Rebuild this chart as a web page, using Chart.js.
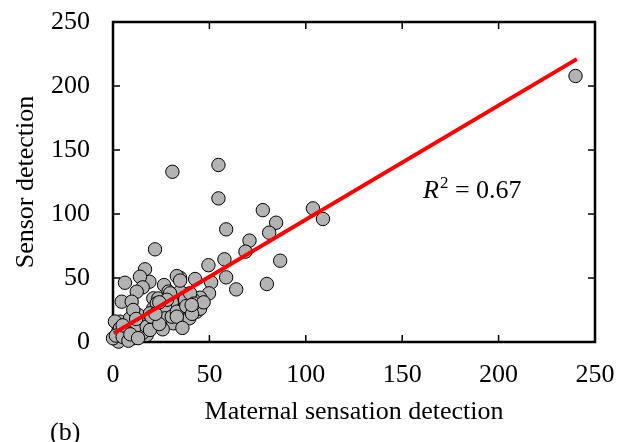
<!DOCTYPE html>
<html>
<head>
<meta charset="utf-8">
<script src="https://cdn.jsdelivr.net/npm/chart.js@4.4.1/dist/chart.umd.min.js"></script>
<style>
  html, body { margin: 0; padding: 0; background: #fff; }
  #wrap { width: 617px; height: 442px; position: relative; }
</style>
</head>
<body>
<div id="wrap"><canvas id="chart"></canvas></div>
<script>
// measured points (maternal sensation vs sensor detection)
const maternalX = [239.9, 30.8, 54.7, 54.7, 77.7, 103.7, 108.9, 84.6, 58.7, 81, 70.8, 68.7, 86.7, 57.8, 49.5, 21.8,
  79.8, 63.9, 58.7, 50.9, 49.8, 45.2, 42.6, 34.8, 33.1, 26.5, 16.6, 18.9, 14, 15.4, 6.2, 12.3, 4.5, 9.7, 20.9, 23.5,
  30.5, 39.1, 41.7, 36.1, 34.8, 28.8, 30.5, 27, 37.4, 43.4, 45.2, 39.6, 27, 31.3, 25.8, 17.4, 17.5, 15.1, 10.5, 2.8,
  0, 3.6, 8.8, 13.1, 6.2, 2.8, 20.9, 22.7, 19.2, 14, 10.5, 11.4, 17.5, 30.5, 33.1, 37.4, 1, 3.6, 7.1, 19.2, 19.9,
  33.1, 40, 29.6, 34.8, 1.5, 5, 8, 24, 22, 12, 5, 42, 47, 38, 28, 24, 36, 41, 9, 13, 40.8];
const sensorY = [207.8, 133, 138.3, 112.2, 103, 104.4, 96.1, 93.2, 88, 85.4, 79.2, 70.6, 63.5, 64.6, 60, 72.4,
  45.3, 41.1, 50.5, 46.6, 38, 34.6, 49.2, 50.2, 51.5, 44.5, 56.8, 47.1, 51, 42.7, 46.3, 39.3, 31.5, 31.5, 34.1, 34,
  35.4, 37.5, 32.8, 33, 39.4, 39.4, 30.9, 27.6, 23.7, 23.7, 26, 18.5, 18.5, 14.6, 9.9, 17.2, 5.5, 6.8, 2.9, 0.3,
  2.9, 15.9, 18.5, 21.1, 9.4, 8.1, 26.3, 30.2, 22.4, 14.6, 25, 12, 12, 19.8, 23.7, 32.8, 16, 10.7, 8.1, 9.4, 19.8,
  19.8, 38, 38, 48, 5, 4, 1, 14, 22, 18, 13, 30, 31, 28, 33, 31, 11, 22, 6, 3, 28.9];

// fitted line end points
const fitX = [0.5, 240.5];
const fitY = [6.8, 221];

const tickValues = [0, 50, 100, 150, 200, 250];
const r2Label = '0.67';

const serif = "'Liberation Serif', 'DejaVu Serif', serif";

const points = maternalX.map((x, i) => ({ x, y: sensorY[i] }));
const fitLine = fitX.map((x, i) => ({ x, y: fitY[i] }));

// box frame with inward ticks + extra labels
const framePlugin = {
  id: 'frame',
  beforeDatasetsDraw(chart) {
    const { ctx, chartArea: a, scales: { x, y } } = chart;
    ctx.save();
    ctx.strokeStyle = '#000';
    ctx.lineWidth = 2.5;
    ctx.strokeRect(a.left, a.top, a.right - a.left, a.bottom - a.top);
    ctx.lineWidth = 1.5;
    ctx.beginPath();
    tickValues.slice(1, -1).forEach(v => {
      const px = x.getPixelForValue(v);
      ctx.moveTo(px, a.bottom); ctx.lineTo(px, a.bottom - 7);
      ctx.moveTo(px, a.top); ctx.lineTo(px, a.top + 7);
      const py = y.getPixelForValue(v);
      ctx.moveTo(a.left, py); ctx.lineTo(a.left + 7, py);
      ctx.moveTo(a.right, py); ctx.lineTo(a.right - 7, py);
    });
    ctx.stroke();
    ctx.restore();
  },
  afterDraw(chart) {
    const { ctx } = chart;
    ctx.save();
    ctx.fillStyle = '#000';
    ctx.textBaseline = 'alphabetic';
    // R^2 label
    ctx.font = 'italic 26px ' + serif;
    ctx.fillText('R', 423, 198);
    let w = ctx.measureText('R').width;
    ctx.font = '17px ' + serif;
    ctx.fillText('2', 423 + w + 1, 188);
    const w2 = ctx.measureText('2').width;
    ctx.font = '26px ' + serif;
    ctx.fillText(' = ' + r2Label, 423 + w + 1 + w2, 198);
    // panel label
    ctx.font = '26px ' + serif;
    ctx.fillText('(b)', 50, 440);
    ctx.restore();
  }
};

new Chart(document.getElementById('chart'), {
  type: 'scatter',
  data: {
    datasets: [
      {
        type: 'line',
        data: fitLine,
        borderColor: '#ff0000',
        borderWidth: 4,
        pointRadius: 0,
        fill: false
      },
      {
        data: points,
        backgroundColor: '#b3b3b3',
        borderColor: '#000',
        borderWidth: 1,
        pointRadius: 6.7,
        clip: false
      }
    ]
  },
  options: {
    responsive: true,
    maintainAspectRatio: false,
    animation: false,
    layout: { padding: { left: 0, right: 22, top: 22, bottom: 0 } },
    plugins: { legend: { display: false }, tooltip: { enabled: false } },
    scales: {
      x: {
        type: 'linear', min: 0, max: 250,
        afterBuildTicks: s => { s.ticks = tickValues.map(v => ({ value: v })); },
        afterFit: s => { s.height = 100; s.paddingLeft = 0; s.paddingRight = 0; },
        grid: { display: false, drawTicks: false },
        border: { display: false },
        ticks: { color: '#000', padding: 18, maxRotation: 0, font: { family: serif, size: 26 } },
        title: { display: true, text: 'Maternal sensation detection', color: '#000',
                 padding: { top: 14, bottom: 14 }, font: { family: serif, size: 26 } }
      },
      y: {
        type: 'linear', min: 0, max: 250,
        afterBuildTicks: s => { s.ticks = tickValues.map(v => ({ value: v })); },
        afterFit: s => { s.width = 113; s.paddingTop = 0; s.paddingBottom = 0; },
        grid: { display: false, drawTicks: false },
        border: { display: false },
        ticks: { color: '#000', padding: 23, font: { family: serif, size: 26 } },
        title: { display: true, text: 'Sensor detection', color: '#000',
                 padding: { top: 11, bottom: 11 }, font: { family: serif, size: 26 } }
      }
    }
  },
  plugins: [framePlugin]
});
</script>
</body>
</html>
